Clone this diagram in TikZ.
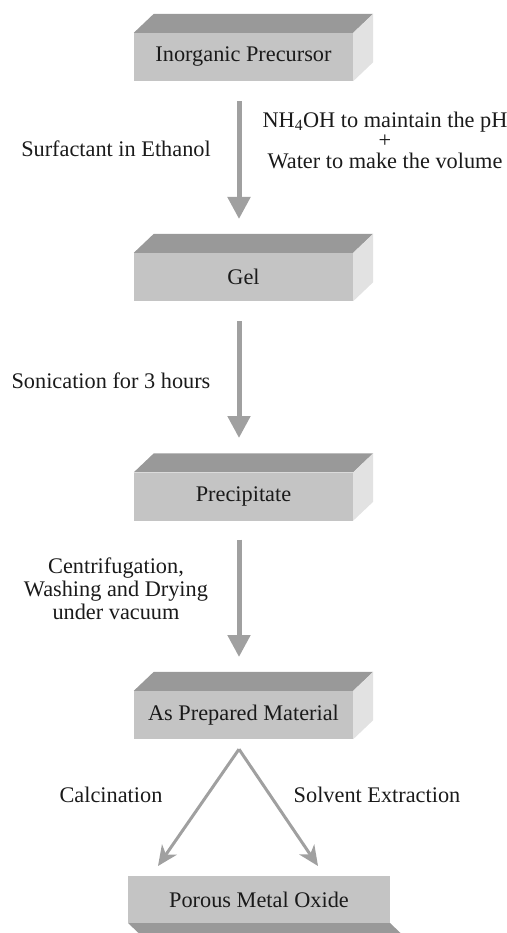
\documentclass[tikz,border=0pt]{standalone}
\usepackage{fontspec}
\setmainfont{Liberation Serif}
\usetikzlibrary{arrows.meta}
\definecolor{frontc}{HTML}{C4C4C4}
\definecolor{topc}{HTML}{999999}
\definecolor{sidec}{HTML}{E2E2E2}
\definecolor{arrc}{HTML}{A0A0A0}
\definecolor{txtc}{HTML}{1A1A1A}
\newcommand\slabfaces[1]{%
  \fill[topc] (#1.north west) -- ++(20pt,19pt) -- ([shift={(20pt,19pt)}]#1.north east) -- (#1.north east) -- cycle;
  \fill[sidec] (#1.north east) -- ++(20pt,19pt) -- ([shift={(20pt,19pt)}]#1.south east) -- (#1.south east) -- cycle;
}
\begin{document}
\begin{tikzpicture}[x=1pt,y=-1pt,
  every node/.style={font=\fontsize{22.3}{23}\selectfont, text=txtc},
  slab/.style={fill=frontc, inner sep=0pt, minimum width=219pt, minimum height=48pt},
  bigarrow/.style={draw=arrc, line width=5pt, -{Triangle[width=22pt,length=22pt]}},
  thinarrow/.style={draw=arrc, line width=3pt, -{Stealth[width=18pt,length=20pt,inset=6pt]}},
  lbl/.style={align=center, inner sep=0pt}]
\useasboundingbox (0,0) rectangle (506,933);
% boxes
\node[slab] (b1) at (243.5,57) {Inorganic Precursor};
\node[slab] (b2) at (243.5,277) {Gel};
\node[slab] (b3) at (243.5,496.5) {Precipitate};
\node[slab] (b4) at (243.5,715) {As Prepared Material};
\slabfaces{b1}
\slabfaces{b2}
\slabfaces{b3}
\slabfaces{b4}
% bottom box
\fill[topc] (128,923) -- (390,923) -- (410,942) -- (148,942) -- cycle;
\node[slab, minimum width=262pt, minimum height=47pt] (b5) at (259,899.5) {Porous Metal Oxide};
% arrows
\coordinate (a1s) at ([xshift=-4.5pt,yshift=-20pt]b1.south);
\coordinate (a1e) at (239,219);
\draw[bigarrow] (a1s) -- (a1e);
\coordinate (a2s) at ([xshift=-4.5pt,yshift=-20pt]b2.south);
\coordinate (a2e) at (239,438);
\draw[bigarrow] (a2s) -- (a2e);
\coordinate (a3s) at ([xshift=-4.5pt,yshift=-19pt]b3.south);
\coordinate (a3e) at (239,657);
\draw[bigarrow] (a3s) -- (a3e);
\coordinate (apex) at ([xshift=-4.5pt,yshift=-10pt]b4.south);
\coordinate (lt) at (158,866);
\coordinate (rt) at (318,866);
\draw[thinarrow] (apex) -- (lt);
\draw[thinarrow] (apex) -- (rt);
% labels
\node[lbl] (l1) at (116,149) {Surfactant in Ethanol};
\node[lbl, font=\fontsize{22.3}{20.5}\selectfont] (l2) at (385,140) {NH\textsubscript{4}OH to maintain the pH\\+\\Water to make the volume};
\node[lbl] (l3) at (111,381) {Sonication for 3 hours};
\node[lbl] (l4) at (116,589) {Centrifugation,\\Washing and Drying\\under vacuum};
\node[lbl] (l5) at (111,795) {Calcination};
\node[lbl] (l6) at (377,795) {Solvent Extraction};
\end{tikzpicture}
\end{document}
